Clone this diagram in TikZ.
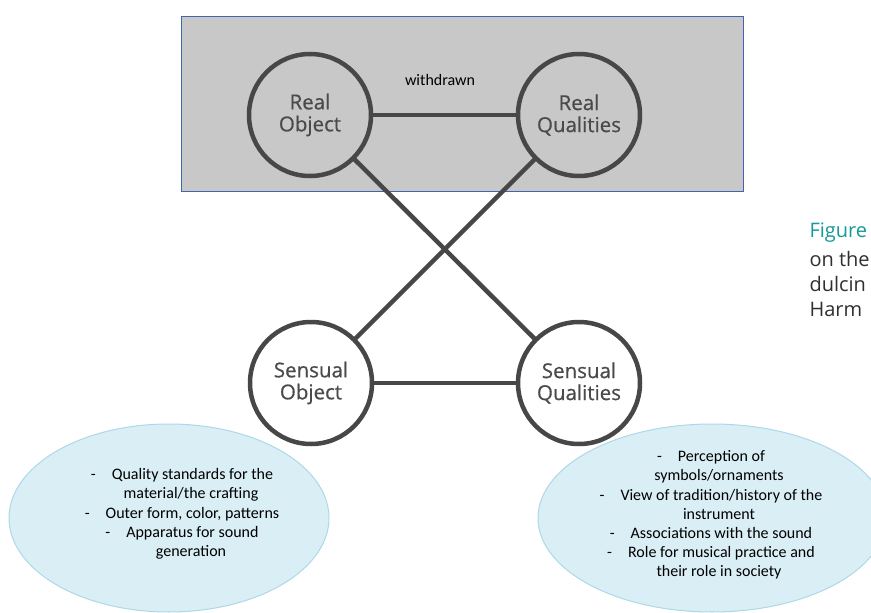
\documentclass[tikz,border=0pt]{standalone}
\usepackage{fontspec}
\setmainfont{Carlito}
\newfontfamily\segoe{Open Sans}
\newfontfamily\segoesb{Open Sans}[FakeBold=0.6]
\usetikzlibrary{shapes.geometric}
\definecolor{boxgray}{HTML}{C8C8C8}
\definecolor{boxblue}{HTML}{4264AE}
\definecolor{ringgray}{HTML}{474747}
\definecolor{labelgray}{HTML}{4A4A4A}
\definecolor{ellfill}{HTML}{DAEEF5}
\definecolor{elldraw}{HTML}{AED8E8}
\definecolor{teal}{HTML}{17999A}
\definecolor{captext}{HTML}{303030}
\tikzset{
  ring/.style={circle, draw=ringgray, line width=4.5pt, minimum size=122pt, inner sep=0pt,
    align=center, font=\segoesb\fontsize{20.5}{22}\selectfont, text=labelgray},
  link/.style={draw=ringgray, line width=4.5pt},
  bubble/.style={ellipse, draw=elldraw, fill=ellfill, line width=1pt, inner sep=0pt},
  bubbletext/.style={align=center, font=\fontsize{16}{19.2}\selectfont, text=black},
  captionline/.style={anchor=west, font=\segoe\fontsize{20}{25}\selectfont, text=captext}
}
\begin{document}
\begin{tikzpicture}[x=1pt,y=-1pt]
\useasboundingbox (0,0) rectangle (871,613);
\clip (0,0) rectangle (871,613);
\fill[white] (0,0) rectangle (871,613);
% background box
\node[draw=boxblue, fill=boxgray, line width=1.2pt, minimum width=562pt, minimum height=175pt, inner sep=0pt, anchor=north west] (box) at (181,16) {};
% ellipses
\node[bubble, minimum width=320pt, minimum height=188pt] (le) at (169,518) {};
\node[bubble, minimum width=348pt, minimum height=188pt] (re) at (712,518) {};
% coordinates of circle centres
\coordinate (ro) at (310,115);
\coordinate (rq) at (579,115);
\coordinate (so) at (311,383);
\coordinate (sq) at (579,383);
% connectors
\draw[link] (ro) -- (rq);
\draw[link] (ro) -- (sq);
\draw[link] (rq) -- (so);
\draw[link] (so) -- (sq);
% circles
\node[ring, fill=boxgray] (roN) at (ro) {Real\\Object};
\node[ring, fill=boxgray] (rqN) at (rq) {Real\\Qualities};
\node[ring, fill=white] (soN) at (so) {Sensual\\Object};
\node[ring, fill=white] (sqN) at (sq) {Sensual\\Qualities};
\node[font=\fontsize{16}{18}\selectfont] (wd) at (440,80) {withdrawn};
% ellipse texts
\node[bubbletext] (lt) at (182,514) {-\quad Quality standards for the\\
\hspace*{18pt}material/the crafting\\
-\quad Outer form, color, patterns\\
-\quad Apparatus for sound\\
\hspace*{18pt}generation};
\node[bubbletext] (rt) at (711,515) {-\quad Perception of\\
\hspace*{16pt}symbols/ornaments\\
-\quad View of tradition/history of the\\
\hspace*{16pt}instrument\\
-\quad Associations with the sound\\
-\quad Role for musical practice and\\
\hspace*{16pt}their role in society};
% caption at the right edge (the reference shows it cut off)
\node[captionline, text=teal] (c1) at (806,233) {Figure};
\node[captionline] (c2) at (806,259) {on the};
\node[captionline] (c3) at (806,284) {dulcin};
\node[captionline] (c4) at (806,309) {Harm};
\end{tikzpicture}
\end{document}
